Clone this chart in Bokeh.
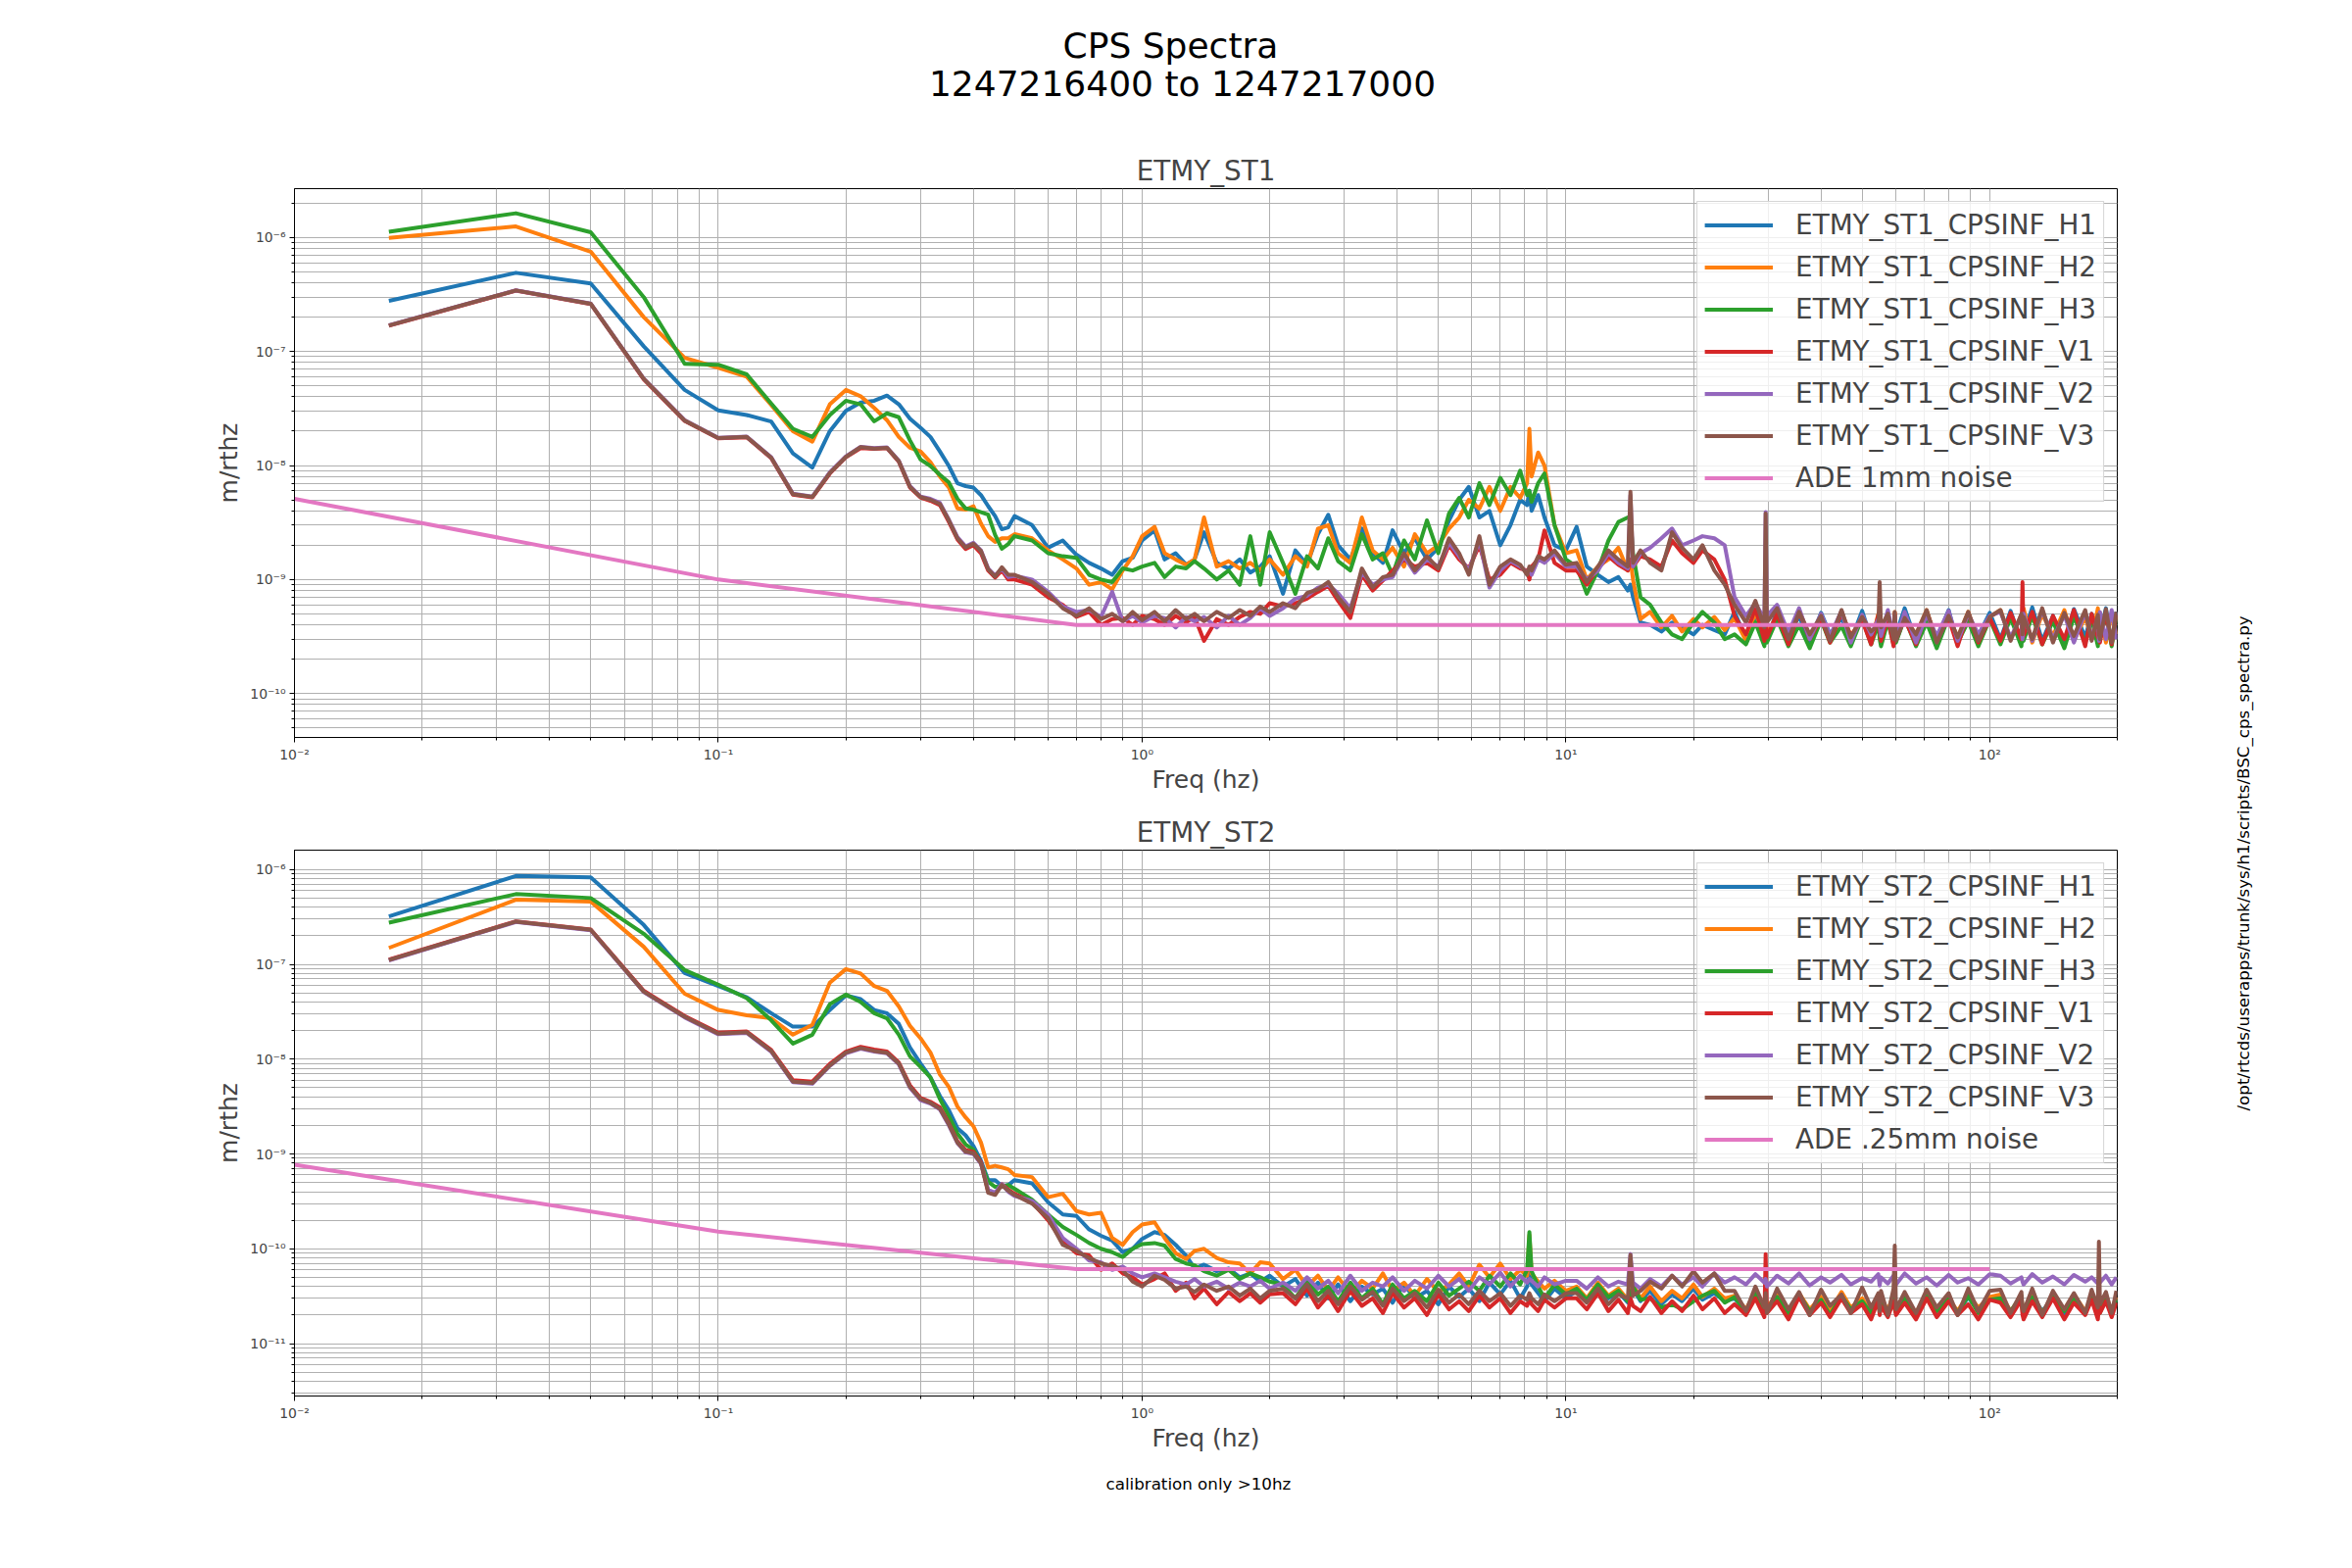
from bokeh.plotting import figure
from bokeh.models import (ColumnDataSource, Range1d, FixedTicker, CustomJSTickFormatter,
                          Label, Legend, LegendItem)
from bokeh.layouts import row, column
from bokeh.embed import file_html
from bokeh.resources import INLINE

# amplitude lists are in pm/rthz (1e-12 m/rthz)
PM = 1e-12

FREQ = [
    0.0167, 0.0333, 0.05, 0.0667, 0.0833, 0.1, 0.1167, 0.1333, 0.15, 0.1667,
    0.1833, 0.2, 0.2167, 0.2333, 0.25, 0.2667, 0.2833, 0.3, 0.3167, 0.3333,
    0.35, 0.3667, 0.3833, 0.4, 0.4167, 0.4333, 0.45, 0.4667, 0.4833, 0.5,
    0.55, 0.6, 0.65, 0.7, 0.75, 0.8, 0.85, 0.9, 0.95, 1.0,
    1.07, 1.13, 1.2, 1.27, 1.33, 1.4, 1.5, 1.6, 1.7, 1.8, 1.9, 2.0,
    2.15, 2.3, 2.45, 2.6, 2.75, 2.9, 3.1, 3.3, 3.5, 3.7,
    3.9, 4.15, 4.4, 4.7, 5.0, 5.3, 5.6, 5.9, 6.25, 6.6,
    7.0, 7.4, 7.8, 8.1, 8.2, 8.3, 8.6, 8.9, 9.4, 10.0,
    10.6, 11.2, 11.9, 12.6, 13.3, 14.0, 14.2, 14.4, 15.0, 15.8,
    16.8, 17.8, 18.8, 20.0, 21.0, 22.4, 23.7,
    25.0, 26.6, 28.0, 29.4, 29.6, 29.8, 31.5, 33.5, 35.5, 37.6,
    40.0, 42.0, 44.7, 47.0, 50.0, 52.5, 54.6, 55.0, 55.4, 57.5,
    59.3, 59.7, 60.1, 63.0, 67.0, 71.0, 75.0, 80.0, 84.0, 89.0,
    94.0, 100.0,
    106, 112, 118.8, 119.5, 120.2, 126, 133, 141, 150, 158,
    168, 174, 180, 181, 182, 188, 194, 199,
]

# ---- ETMY_ST1 ----
ST1_H1 = [
    278000, 490000, 395000, 111000, 46000, 30400, 27700, 24300, 12800, 9600,
    20000, 30200, 35700, 37000, 41000, 34400, 25700, 21400, 17800, 13300,
    9900, 7000, 6600, 6400, 5500, 4400, 3600, 2760, 2870, 3600,
    3000, 1900, 2200, 1650, 1400, 1250, 1100, 1450, 1550, 2200,
    2700, 1500, 1700, 1350, 1500, 2600, 1400, 1250, 1500, 1150, 1300, 1600,
    750, 1800, 1350, 2500, 3700, 2000, 1500, 2800, 1700, 1400,
    2700, 1700, 2300, 1500, 1900, 3300, 5000, 6500, 3500, 4000,
    2000, 3000, 5000, 4500, 6000, 4000, 5500, 3500, 2000, 1800,
    2900, 1300, 1100, 950, 1050, 800, 900, 700, 420, 400,
    350, 420, 380, 330, 400, 360, 330,
    520, 300, 470, 320, 400, 290, 540, 310, 480, 280,
    510, 330, 460, 290, 530, 300, 450, 380, 310, 500,
    280, 420, 330, 560, 290, 470, 300, 540, 270, 490,
    320, 510,
    300, 530, 280, 420, 330, 570, 290, 480, 260, 550,
    310, 500, 280, 440, 330, 560, 270, 520,
]
ST1_H2 = [
    990000, 1250000, 750000, 200000, 88000, 72000, 60000, 34000, 20000, 16200,
    34400, 46000, 40500, 32000, 25000, 17800, 14300, 13300, 10700, 8000,
    6400, 4200, 4100, 4400, 3100, 2400, 2140, 2300, 2300, 2500,
    2300, 1800, 1500, 1250, 900, 950, 820, 1200, 1600, 2400,
    2900, 1700, 1500, 1350, 1500, 3500, 1300, 1450, 1250, 1400, 1200, 1500,
    1100, 1600, 1300, 2800, 3000, 1700, 1400, 3500, 1800, 1500,
    1900, 1300, 2500, 1700, 2000, 2800, 3500, 5000, 4200, 6500,
    4000, 6500, 5200, 7000, 21000, 8000, 13000, 10000, 3000, 1700,
    1800, 1000, 1300, 1500, 1900, 1200, 1500, 1000, 450, 520,
    380, 480, 350, 450, 380, 470, 360,
    460, 290, 520, 300, 450, 330, 490, 270, 540, 310,
    470, 290, 520, 320, 450, 280, 500, 340, 300, 480,
    300, 520, 290, 460, 330, 540, 280, 480, 310, 520,
    290, 470,
    540, 300, 490, 330, 560, 280, 500, 320, 540, 290,
    470, 300, 560, 330, 510, 280, 500, 330,
]
ST1_H3 = [
    1120000, 1630000, 1110000, 300000, 78000, 76500, 63000, 35000, 21000, 17800,
    27700, 37000, 34400, 24400, 28700, 26500, 16600, 11300, 9900, 8300,
    7100, 5100, 4200, 4100, 3900, 3700, 2460, 1860, 2050, 2400,
    2200, 1700, 1600, 1550, 1100, 1000, 950, 1250, 1200, 1300,
    1400, 1050, 1300, 1250, 1450, 1250, 1000, 1200, 900, 2400, 900, 2600,
    1400, 750, 1600, 1250, 2300, 1450, 1200, 2500, 1500, 1700,
    1100, 2200, 1500, 3300, 1700, 3800, 5200, 3500, 7000, 4500,
    7800, 5500, 9000, 5500, 6000, 4800, 7000, 8500, 3000, 1500,
    1300, 750, 1200, 2200, 3200, 3500, 3400, 1700, 700, 600,
    420, 330, 300, 420, 520, 420, 300,
    330, 270, 420, 260, 380, 280, 450, 260, 400, 250,
    440, 280, 390, 260, 460, 270, 410, 300, 260, 430,
    270, 400, 280, 460, 260, 420, 250, 470, 280, 430,
    260, 450,
    270, 460, 260, 400, 290, 480, 270, 430, 250, 470,
    280, 450, 260, 410, 300, 490, 260, 470,
]
ST1_V1 = [
    168000, 342000, 261000, 57000, 24600, 17300, 17700, 11600, 5550, 5250,
    8500, 11800, 14200, 14000, 14200, 10800, 6400, 5250, 4900, 4500,
    3200, 2250, 1850, 2000, 1700, 1200, 1040, 1200, 1000, 1000,
    900, 700, 600, 470, 520, 400, 450, 460, 400, 480,
    450, 400, 480, 420, 470, 290, 450, 400, 470, 520, 500, 620,
    580, 620, 680, 780, 880, 650, 460, 1100, 800, 980,
    1200, 1500, 1300, 1400, 1200, 2000, 1500, 1250, 2000, 1000,
    1100, 1400, 1250, 1200, 1000, 1300, 1500, 2700, 1400, 1200,
    1200, 900, 1250, 1600, 1350, 1200, 1500, 1300, 1600, 1500,
    1300, 2200, 1700, 1400, 1800, 1500, 1000,
    480, 330, 560, 290, 450, 310, 500, 270, 530, 300,
    460, 280, 510, 320, 440, 270, 490, 360, 290, 470,
    260, 500, 310, 450, 270, 520, 300, 460, 260, 510,
    280, 460,
    290, 510, 300, 950, 320, 520, 270, 480, 300, 540,
    260, 500, 310, 470, 280, 510, 270, 490,
]
ST1_V2 = [
    170000, 344000, 263000, 57800, 25000, 17500, 17900, 11800, 5650, 5350,
    8700, 12000, 14600, 14200, 14400, 11000, 6600, 5350, 5100, 4700,
    3350, 2350, 1950, 2100, 1800, 1250, 1080, 1250, 1050, 1080,
    1000, 780, 580, 520, 540, 470, 780, 430, 480, 420,
    480, 460, 380, 470, 430, 470, 380, 480, 400, 460, 560, 480,
    560, 680, 720, 850, 900, 760, 560, 1150, 900, 1000,
    1050, 1600, 1150, 1500, 1300, 2100, 1600, 1200, 2200, 850,
    1200, 1450, 1300, 1150, 1250, 1100, 1500, 1400, 1700, 1300,
    1300, 1000, 1200, 1700, 1400, 1250, 5500, 1300, 1700, 1900,
    2300, 2800, 2000, 2200, 2400, 2300, 2000,
    700, 480, 620, 450, 3900, 480, 600, 340, 560, 300,
    500, 320, 530, 280, 490, 330, 450, 400, 320, 540,
    310, 480, 300, 520, 280, 490, 320, 530, 290, 500,
    330, 480,
    520, 310, 480, 300, 500, 290, 540, 300, 490, 280,
    520, 310, 470, 290, 520, 300, 540, 300,
]
ST1_V3 = [
    169000, 343000, 262000, 57500, 24800, 17400, 17800, 11700, 5600, 5300,
    8600, 11900, 14500, 14100, 14300, 10900, 6500, 5300, 5000, 4600,
    3300, 2300, 1910, 2060, 1780, 1230, 1060, 1280, 1100, 1100,
    950, 750, 560, 480, 560, 450, 500, 430, 520, 440,
    520, 430, 540, 450, 500, 430, 520, 460, 540, 480, 580, 520,
    620, 560, 760, 820, 950, 700, 520, 1250, 850, 1050,
    1100, 1700, 1200, 1600, 1250, 2300, 1700, 1100, 2400, 900,
    1300, 1500, 1350, 1100, 1300, 1200, 1600, 1500, 1800, 1350,
    1400, 950, 1300, 1800, 1500, 1300, 5900, 1400, 1800, 1400,
    1200, 2600, 1900, 1500, 2000, 1200, 900,
    600, 420, 650, 380, 3800, 420, 560, 300, 520, 330,
    480, 290, 540, 310, 470, 350, 400, 950, 380, 500,
    300, 520, 290, 460, 330, 540, 280, 480, 310, 520,
    290, 470,
    540, 290, 500, 330, 470, 300, 560, 280, 510, 320,
    540, 290, 490, 330, 300, 550, 280, 520,
]

# ---- ETMY_ST2 ----
ST2_H1 = [
    320000, 855000, 825000, 260000, 81000, 59000, 45000, 30500, 22000, 22000,
    33000, 47000, 43000, 33000, 30500, 23500, 13300, 9000, 6400, 4100,
    2900, 1870, 1570, 1210, 850, 530, 530, 460, 470, 530,
    490, 310, 230, 222, 160, 137, 122, 92, 100, 127,
    150, 140, 110, 85, 62, 68, 58, 62, 50, 55, 45, 52,
    40, 48, 32, 44, 30, 42, 28, 40, 33, 38,
    27, 42, 30, 36, 26, 40, 31, 38, 28, 44,
    33, 46, 30, 40, 60, 42, 34, 28, 38, 30,
    36, 28, 40, 30, 35, 27, 32, 38, 28, 36,
    26, 33, 28, 38, 29, 34, 28,
    30, 22, 33, 21, 29, 23, 32, 20, 31, 22,
    30, 21, 33, 22, 29, 20, 31, 22, 30, 21,
    32, 24, 22, 30, 20, 33, 22, 29, 21, 31,
    22, 30,
    31, 21, 30, 23, 21, 32, 22, 30, 21, 31,
    22, 29, 23, 27, 22, 31, 21, 30,
]
ST2_H2 = [
    149000, 480000, 460000, 153000, 49000, 33000, 29000, 27000, 18100, 23000,
    64000, 89000, 80000, 59000, 52500, 36000, 22500, 16600, 11700, 6900,
    5100, 3160, 2430, 1960, 1320, 720, 750, 720, 690, 600,
    570, 350, 380, 250, 230, 240, 130, 110, 150, 180,
    190, 130, 90, 78, 95, 100, 80, 72, 70, 55, 72, 70,
    48, 60, 40, 52, 36, 50, 34, 46, 38, 55,
    36, 44, 32, 48, 35, 42, 55, 40, 68, 50,
    70, 48, 60, 52, 140, 55, 45, 38, 46, 36,
    40, 30, 44, 32, 38, 29, 34, 42, 30, 40,
    28, 36, 30, 42, 31, 38, 30,
    32, 23, 35, 22, 30, 24, 33, 21, 34, 23,
    31, 22, 35, 24, 30, 21, 33, 23, 31, 22,
    34, 25, 23, 32, 21, 34, 23, 30, 22, 33,
    24, 31,
    33, 22, 31, 24, 22, 34, 21, 32, 23, 33,
    22, 30, 24, 28, 23, 32, 22, 31,
]
ST2_H3 = [
    275000, 550000, 500000, 210000, 87000, 61000, 44000, 25700, 14600, 18100,
    38000, 48000, 40000, 30500, 27000, 18100, 10700, 8300, 6400, 3800,
    2500, 1640, 1260, 1110, 800, 510, 450, 450, 470, 430,
    330, 230, 170, 140, 115, 100, 92, 82, 100, 112,
    115, 108, 78, 70, 67, 58, 52, 60, 48, 55, 50, 45,
    42, 30, 46, 33, 40, 28, 44, 30, 38, 26,
    42, 30, 36, 28, 44, 32, 38, 45, 36, 52,
    40, 55, 42, 60, 150, 58, 40, 30, 42, 33,
    38, 29, 42, 31, 36, 28, 33, 40, 29, 30,
    24, 26, 23, 28, 32, 36, 27,
    31, 21, 34, 22, 28, 22, 31, 21, 33, 22,
    29, 20, 32, 23, 28, 21, 32, 21, 29, 20,
    33, 23, 21, 31, 20, 32, 22, 30, 21, 32,
    21, 29,
    30, 22, 32, 22, 20, 31, 21, 31, 22, 30,
    21, 30, 22, 26, 21, 30, 22, 29,
]
ST2_V1 = [
    112000, 284000, 233000, 52500, 28500, 19000, 19600, 12500, 6000, 5800,
    8900, 12000, 13500, 12600, 12000, 9200, 5300, 3900, 3550, 3100,
    2100, 1360, 1100, 1050, 820, 400, 380, 480, 420, 380,
    310, 200, 120, 90, 85, 60, 70, 55, 50, 42,
    48, 55, 36, 44, 30, 38, 26, 35, 28, 34, 27, 33,
    34, 26, 38, 24, 32, 22, 36, 25, 30, 21,
    34, 24, 30, 20, 33, 23, 28, 22, 32, 24,
    30, 21, 28, 25, 30, 26, 22, 29, 24, 30,
    30, 23, 34, 22, 29, 21, 30, 25, 22, 31,
    21, 28, 22, 32, 23, 30, 21,
    26, 20, 30, 19, 88, 21, 28, 18, 31, 20,
    27, 19, 30, 21, 26, 18, 29, 20, 25, 19,
    28, 24, 20, 27, 18, 30, 19, 28, 20, 26,
    18, 29,
    27, 19, 29, 20, 18, 28, 19, 30, 18, 27,
    20, 29, 18, 25, 21, 28, 19, 27,
]
ST2_V2 = [
    110000, 280000, 229000, 51000, 27600, 18300, 18900, 12000, 5700, 5500,
    8500, 11500, 12900, 12000, 11500, 8800, 5000, 3700, 3400, 2950,
    2000, 1300, 1040, 1000, 790, 420, 390, 480, 400, 360,
    320, 230, 130, 100, 75, 72, 60, 65, 55, 50,
    55, 50, 45, 42, 48, 40, 45, 38, 44, 40, 46, 38,
    44, 36, 50, 38, 46, 34, 52, 36, 44, 40,
    50, 36, 46, 38, 52, 40, 48, 36, 50, 42,
    56, 40, 52, 44, 48, 46, 40, 50, 42, 46,
    46, 38, 50, 40, 45, 42, 88, 44, 38, 48,
    40, 52, 42, 50, 40, 55, 44,
    50, 42, 54, 44, 48, 40, 52, 43, 55, 41,
    50, 44, 53, 42, 49, 45, 54, 41, 50, 43,
    52, 46, 42, 55, 43, 50, 41, 53, 44, 49,
    42, 54,
    52, 43, 50, 45, 42, 54, 44, 51, 42, 53,
    45, 50, 43, 47, 44, 52, 42, 50,
]
ST2_V3 = [
    111000, 282000, 231000, 51500, 28000, 18600, 19200, 12200, 5800, 5600,
    8600, 11700, 13100, 12200, 11700, 9000, 5100, 3800, 3450, 3000,
    2050, 1320, 1060, 1020, 800, 390, 370, 470, 410, 370,
    300, 210, 110, 95, 80, 70, 66, 60, 45, 40,
    52, 47, 38, 40, 35, 42, 36, 40, 32, 38, 30, 36,
    38, 30, 42, 28, 36, 26, 40, 29, 35, 25,
    38, 28, 34, 24, 37, 27, 33, 26, 36, 28,
    34, 25, 32, 29, 34, 30, 26, 33, 28, 34,
    34, 27, 38, 26, 33, 30, 86, 32, 36, 45,
    38, 52, 40, 58, 44, 55, 36,
    36, 22, 40, 24, 34, 21, 38, 23, 35, 20,
    37, 25, 33, 21, 39, 24, 34, 22, 36, 20,
    38, 108, 23, 35, 21, 37, 24, 34, 20, 38,
    22, 36,
    37, 21, 35, 24, 22, 38, 20, 36, 23, 34,
    21, 37, 24, 119, 26, 35, 21, 36,
]

ADE_FREQ = [0.01, 0.1, 0.7, 100]
ADE_1MM = [5100, 1000, 400, 400]
ADE_025MM = [770, 152, 61, 61]

ST1_NAMES = ["ETMY_ST1_CPSINF_H1", "ETMY_ST1_CPSINF_H2", "ETMY_ST1_CPSINF_H3",
             "ETMY_ST1_CPSINF_V1", "ETMY_ST1_CPSINF_V2", "ETMY_ST1_CPSINF_V3"]
ST2_NAMES = ["ETMY_ST2_CPSINF_H1", "ETMY_ST2_CPSINF_H2", "ETMY_ST2_CPSINF_H3",
             "ETMY_ST2_CPSINF_V1", "ETMY_ST2_CPSINF_V2", "ETMY_ST2_CPSINF_V3"]

COLORS = ["#1f77b4", "#ff7f0e", "#2ca02c", "#d62728", "#9467bd", "#8c564b"]
ADE_COLOR = "#e377c2"
GRID = "#b0b0b0"
FONT = "DejaVu Sans"
W = 2240  # width of the two plot panels; the script path sits to the right

DECADES = [10.0 ** e for e in range(-13, 4)]
MINORS = [m * d for d in DECADES for m in range(2, 10)]

POW10 = r"""
const sup = {"-": "\u207b", "0": "\u2070", "1": "\u00b9", "2": "\u00b2", "3": "\u00b3",
             "4": "\u2074", "5": "\u2075", "6": "\u2076", "7": "\u2077", "8": "\u2078", "9": "\u2079"};
const e = Math.round(Math.log10(tick));
return "10" + String(e).split("").map((c) => sup[c]).join("");
"""


def blank(width, height):
    # an empty canvas used only to hold text
    b = figure(width=width, height=height, x_range=Range1d(0, 1), y_range=Range1d(0, 1),
               x_axis_type=None, y_axis_type=None, title=None,
               output_backend="svg", toolbar_location=None, min_border=0)
    b.outline_line_color = None
    return b


def text(x, y, s, size, align="center", **kw):
    return Label(x=x, y=y, x_units="screen", y_units="screen", text=s,
                 text_align=align, text_baseline="alphabetic",
                 text_font=FONT, text_font_size=size, text_color="black", **kw)


def make_panel(series, names, ade, ade_label, y_lo, y_hi, height, top, bottom, title):
    p = figure(width=W, height=height, title=title,
               x_axis_type="log", y_axis_type="log",
               x_range=Range1d(0.01, 200), y_range=Range1d(y_lo, y_hi),
               output_backend="svg", toolbar_location=None,
               min_border_left=300, min_border_right=W - 2160,
               min_border_top=top, min_border_bottom=bottom)
    p.title.align = "center"
    p.title.text_font = FONT
    p.title.text_font_size = "27.8px"
    p.title.text_font_style = "normal"
    p.title.standoff = 4
    p.outline_line_color = "black"
    p.outline_line_width = 1
    p.background_fill_color = "white"
    p.border_fill_color = "white"

    for ax in (p.xaxis[0], p.yaxis[0]):
        ax.ticker = FixedTicker(ticks=DECADES, minor_ticks=MINORS)
        ax.formatter = CustomJSTickFormatter(code=POW10)
        ax.major_label_text_font = FONT
        ax.major_label_text_font_size = "13.9px"
        ax.axis_label_text_font = FONT
        ax.axis_label_text_font_size = "25px"
        ax.axis_label_text_font_style = "normal"
        ax.major_tick_out = 5
        ax.major_tick_in = 0
        ax.minor_tick_out = 3
        ax.minor_tick_in = 0
        ax.major_label_standoff = 4
        ax.axis_line_color = "black"
    p.xaxis.axis_label = "Freq (hz)"
    p.yaxis.axis_label = "m/rthz"
    p.xaxis.axis_label_standoff = 0
    p.yaxis.axis_label_standoff = 4

    for g in (p.xgrid[0], p.ygrid[0]):
        g.grid_line_color = GRID
        g.minor_grid_line_color = GRID
        g.grid_line_width = 1
        g.minor_grid_line_width = 1

    items = []
    for vals, name, color in zip(series, names, COLORS):
        assert len(vals) == len(FREQ), (name, len(vals))
        src = ColumnDataSource(dict(f=FREQ, amp=[v * PM for v in vals]))
        r = p.line("f", "amp", source=src, line_color=color, line_width=4, line_join="round")
        items.append(LegendItem(label=name, renderers=[r]))
    src = ColumnDataSource(dict(f=ADE_FREQ, amp=[v * PM for v in ade]))
    r = p.line("f", "amp", source=src, line_color=ADE_COLOR, line_width=4, line_join="round")
    items.append(LegendItem(label=ade_label, renderers=[r]))

    legend = Legend(items=items, location="top_right", margin=13, padding=7,
                    spacing=10, label_height=33, glyph_height=33, glyph_width=70,
                    label_standoff=23, label_text_font=FONT, label_text_font_size="27.8px",
                    background_fill_color="white", background_fill_alpha=0.8,
                    border_line_color="#cccccc", border_line_alpha=0.8, border_line_width=1)
    p.add_layout(legend)
    return p


# header with the suptitle; its frame lines up with the panels (x from the left of the frame)
head = blank(W, 138)
head.add_layout(text(894, 92, "CPS Spectra", "36px"))
head.add_layout(text(906, 53, "1247216400 to 1247217000", "36px"))

p1 = make_panel([ST1_H1, ST1_H2, ST1_H3, ST1_V1, ST1_V2, ST1_V3], ST1_NAMES,
                ADE_1MM, "ADE 1mm noise", 4.12e-11, 2.68e-6, 690, 54, 76, "ETMY_ST1")
p2 = make_panel([ST2_H1, ST2_H2, ST2_H3, ST2_V1, ST2_V2, ST2_V3], ST2_NAMES,
                ADE_025MM, "ADE .25mm noise", 2.8e-12, 1.6e-6, 672, 36, 76, "ETMY_ST2")

foot = blank(W, 92)
foot.add_layout(text(828, 79, "calibration only >10hz", "16.7px", align="left"))

side = blank(2392 - W, 1592)
side.add_layout(Label(x=48, y=459, x_units="screen", y_units="screen",
                      text="/opt/rtcds/userapps/trunk/sys/h1/scripts/BSC_cps_spectra.py",
                      angle=90, angle_units="deg", text_align="left", text_baseline="middle",
                      text_font=FONT, text_font_size="16.7px", text_color="black"))

layout = row(column(head, p1, p2, foot), side)

with open("out.html", "w", encoding="utf-8") as fh:
    fh.write(file_html(layout, INLINE))
